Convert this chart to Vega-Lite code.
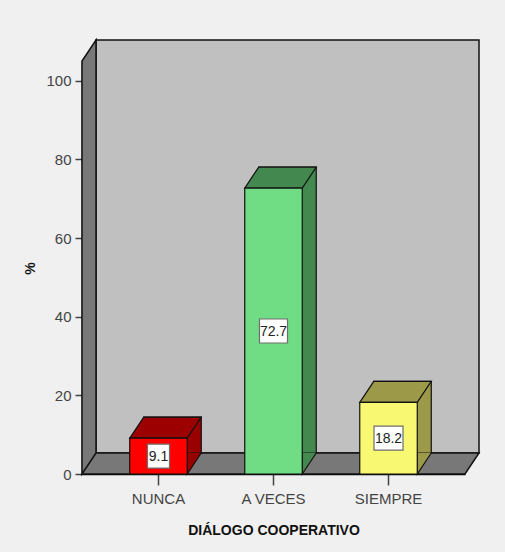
{
  "$schema": "https://vega.github.io/schema/vega-lite/v6.json",
  "autosize": {"type": "none"},
  "width": 383,
  "height": 413,
  "padding": {"left": 82, "top": 61, "right": 40, "bottom": 78},
  "background": "#f0f0f0",
  "config": {
    "view": {"stroke": null},
    "font": "Liberation Sans",
    "axis": {
      "labelFont": "Liberation Sans",
      "labelFontSize": 15,
      "labelColor": "#444444",
      "titleFont": "Liberation Sans",
      "titleFontSize": 14,
      "titleFontWeight": "bold",
      "titleColor": "#111111",
      "domainColor": "#000000",
      "domainWidth": 1.5,
      "tickColor": "#444444",
      "tickWidth": 1.5,
      "grid": false
    }
  },
  "data": {
    "values": [
      {"cat": "NUNCA", "value": 9.1},
      {"cat": "A VECES", "value": 72.7},
      {"cat": "SIEMPRE", "value": 18.2}
    ]
  },
  "layer": [
    {
      "data": {"values": [{}]},
      "mark": {"type": "rect", "fill": "#c0c0c0", "stroke": "#111111", "strokeWidth": 1.5, "xOffset": 14, "x2Offset": 14, "yOffset": -21, "y2Offset": -21},
      "encoding": {
        "x": {"value": 0},
        "x2": {"value": "width"},
        "y": {"datum": 0, "type": "quantitative", "scale": {"domain": [0, 105], "nice": false}},
        "y2": {"datum": 105}
      }
    },
    {
      "data": {"values": [{}]},
      "mark": {"type": "point", "filled": true, "opacity": 1, "size": 4, "fill": "#787878", "stroke": "#111111", "strokeWidth": 1.5,
        "shape": "M0,0 L0,-413 L14,-434 L14,-21 Z M0,0 L383,0 L397,-21 L14,-21 Z"},
      "encoding": {
        "x": {"value": 0},
        "y": {"datum": 0, "type": "quantitative"}
      }
    },
    {
      "mark": {"type": "bar", "width": {"band": 0.5}, "stroke": "#111111", "strokeWidth": 1.2, "xOffset": 14, "yOffset": -21, "y2Offset": -21},
      "encoding": {
        "x": {"field": "cat", "type": "nominal", "sort": null,
          "scale": {"paddingInner": 0, "paddingOuter": 0.165},
          "axis": {"title": "DIÁLOGO COOPERATIVO", "labelAngle": 0, "tickSize": 11, "labelPadding": 6, "titleY": 60, "titleBaseline": "alphabetic", "domain": true}},
        "y": {"field": "value", "type": "quantitative",
          "axis": {"title": "%", "values": [0, 20, 40, 60, 80, 100], "tickSize": 7, "labelPadding": 4, "titleX": -52, "titleY": 207, "titleAngle": 270, "titleAlign": "center", "titleBaseline": "middle"}},
        "fill": {"field": "cat", "type": "nominal", "legend": null,
          "scale": {"domain": ["NUNCA", "A VECES", "SIEMPRE"], "range": ["#990000", "#43894f", "#9c9a48"]}}
      }
    },
    {
      "mark": {"type": "point", "filled": true, "opacity": 1, "size": 4, "stroke": "#111111", "strokeWidth": 1.2,
        "shape": "M-28.75,0 L28.75,0 L42.75,-21 L-14.75,-21 Z"},
      "encoding": {
        "x": {"field": "cat", "type": "nominal", "sort": null},
        "y": {"field": "value", "type": "quantitative"},
        "fill": {"field": "cat", "type": "nominal", "legend": null,
          "scale": {"domain": ["NUNCA", "A VECES", "SIEMPRE"], "range": ["#9c0000", "#43894f", "#9c9a48"]}}
      }
    },
    {
      "mark": {"type": "point", "filled": true, "opacity": 1, "size": 4, "stroke": "#111111", "strokeWidth": 1.2,
        "shape": "M28.75,-21 L28.75,0 L42.75,-21"},
      "encoding": {
        "x": {"field": "cat", "type": "nominal", "sort": null},
        "y": {"datum": 0, "type": "quantitative"},
        "fill": {"field": "cat", "type": "nominal", "legend": null,
          "scale": {"domain": ["NUNCA", "A VECES", "SIEMPRE"], "range": ["#990000", "#43894f", "#9c9a48"]}}
      }
    },
    {
      "mark": {"type": "bar", "width": {"band": 0.5}, "stroke": "#111111", "strokeWidth": 1.2},
      "encoding": {
        "x": {"field": "cat", "type": "nominal", "sort": null},
        "y": {"field": "value", "type": "quantitative"},
        "fill": {"field": "cat", "type": "nominal", "legend": null,
          "scale": {"domain": ["NUNCA", "A VECES", "SIEMPRE"], "range": ["#ff0000", "#70dc84", "#f9f872"]}}
      }
    },
    {
      "mark": {"type": "point", "filled": true, "opacity": 1, "size": 4, "fill": "#ffffff", "stroke": "#6e6e6e", "strokeWidth": 1.2},
      "encoding": {
        "x": {"field": "cat", "type": "nominal", "sort": null},
        "y": {"field": "value", "type": "quantitative", "stack": "zero", "bandPosition": 0.5},
        "shape": {"field": "cat", "type": "nominal", "legend": null,
          "scale": {"domain": ["NUNCA", "A VECES", "SIEMPRE"],
            "range": ["M-11,-12 L11,-12 L11,12 L-11,12 Z", "M-14,-12 L14,-12 L14,12 L-14,12 Z", "M-14.5,-12 L14.5,-12 L14.5,12 L-14.5,12 Z"]}}
      }
    },
    {
      "mark": {"type": "text", "font": "Liberation Sans", "fontSize": 14, "color": "#222222", "baseline": "middle", "align": "center", "dy": 1},
      "encoding": {
        "x": {"field": "cat", "type": "nominal", "sort": null},
        "y": {"field": "value", "type": "quantitative", "stack": "zero", "bandPosition": 0.5},
        "text": {"field": "value", "type": "quantitative", "format": ".1f"}
      }
    }
  ],
  "resolve": {"scale": {"fill": "independent"}}
}
